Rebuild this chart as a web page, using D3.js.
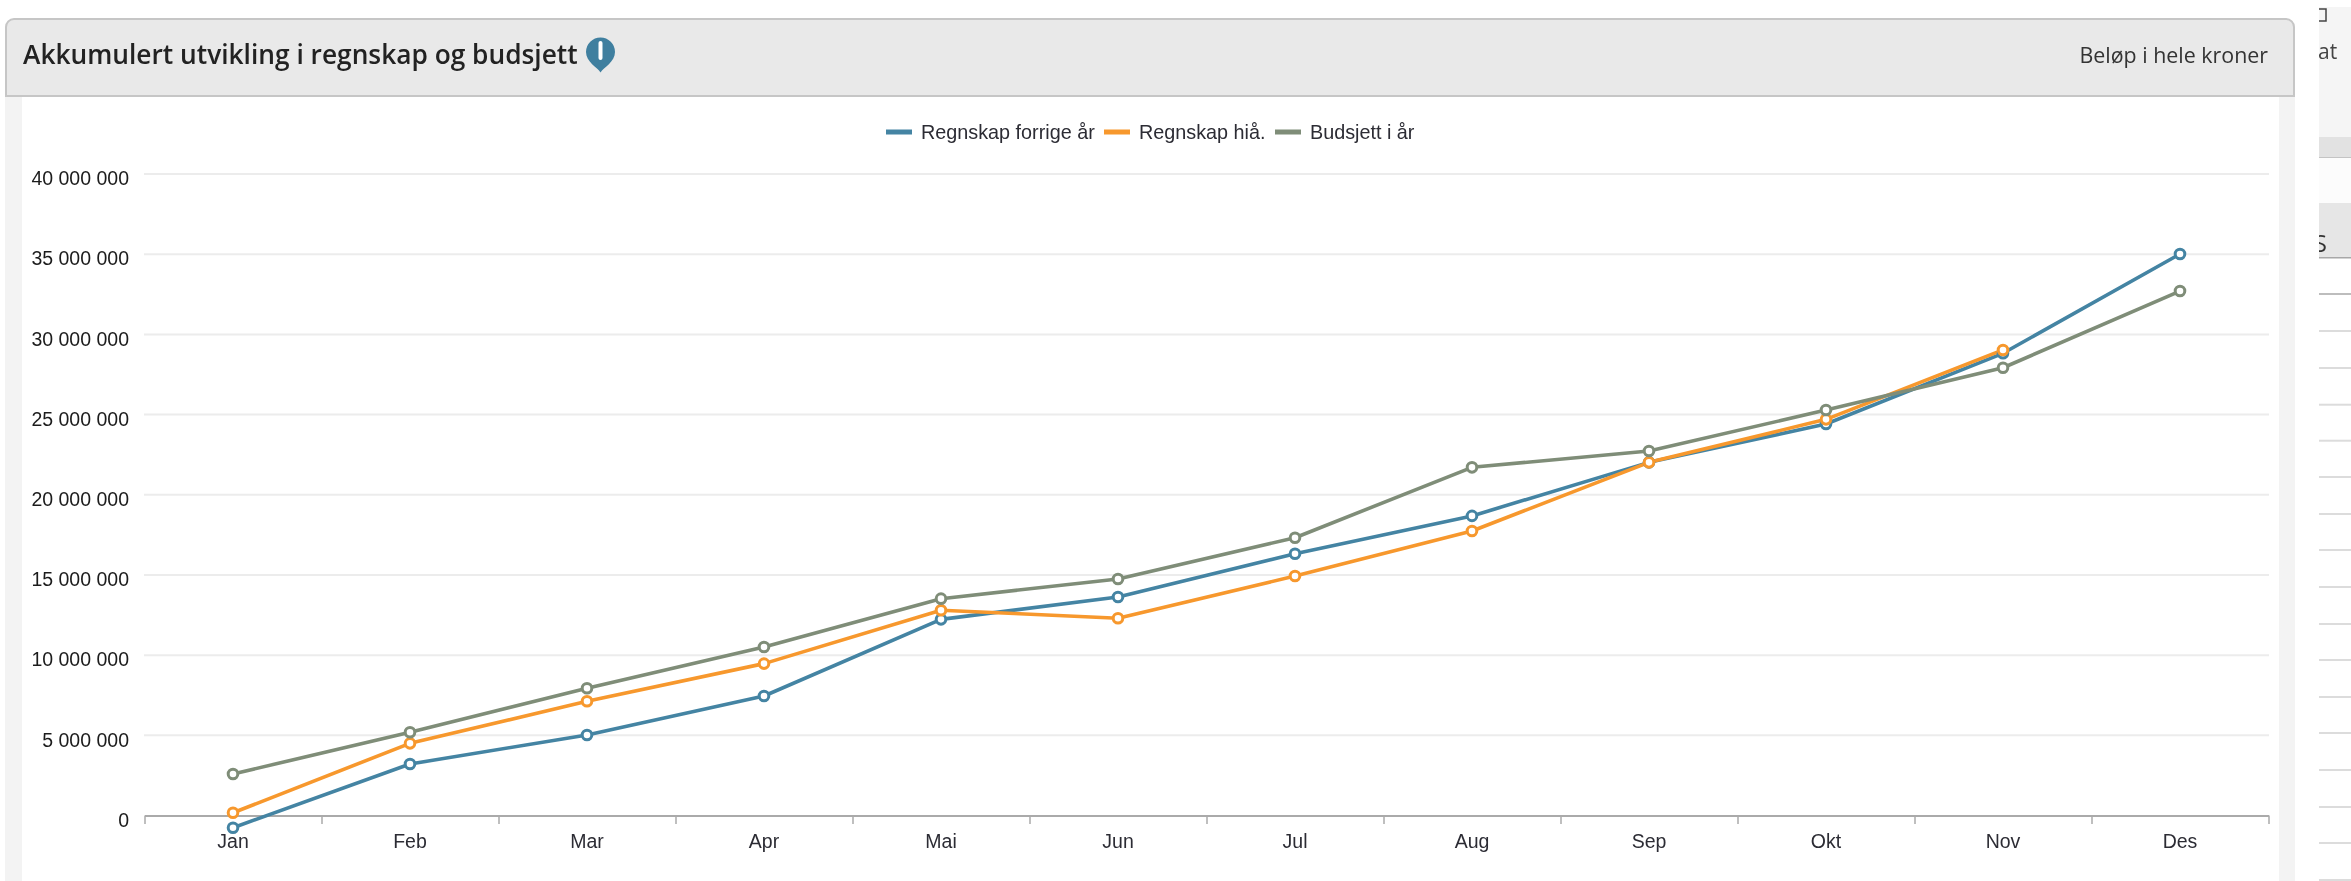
<!DOCTYPE html>
<html lang="no">
<head>
<meta charset="utf-8">
<title>Akkumulert utvikling i regnskap og budsjett</title>
<script src="https://cdn.jsdelivr.net/npm/d3@7/dist/d3.min.js"></script>
<style>
html,body{margin:0;padding:0;background:#fff;overflow:hidden}
svg{display:block;filter:blur(0.45px)}
</style>
</head>
<body>
<svg id="c" width="2351" height="881"></svg>
<script>
const months = ["Jan","Feb","Mar","Apr","Mai","Jun","Jul","Aug","Sep","Okt","Nov","Des"];
const yTicks = [0,5000000,10000000,15000000,20000000,25000000,30000000,35000000,40000000];
const regnskapForrigeAr = [-760000,3210000,5020000,7450000,12230000,13620000,16320000,18680000,22020000,24410000,28820000,35010000];
const regnskapHia = [170000,4500000,7120000,9470000,12800000,12300000,14930000,17740000,22020000,24700000,29030000];
const budsjettIAr = [2590000,5190000,7930000,10510000,13520000,14750000,17320000,21710000,22730000,25280000,27920000,32700000];
const seriesNames = ["Regnskap forrige år","Regnskap hiå.","Budsjett i år"];
const seriesColors = ["#4484a3","#f7982d","#7f8d78"];
const seriesValues = [regnskapForrigeAr,regnskapHia,budsjettIAr];
const legendSwatchX = [886,1104,1275];
const sideRules = [294,331,368,404.7,440.7,477,514,550,587,624,660,697,733,770,807,843,880];

const svg = d3.select("#c");
const sans = "'Liberation Sans',Arial,sans-serif";
const open = "'Open Sans',sans-serif";

svg.append("defs").append("clipPath").attr("id","sideClip")
  .append("rect").attr("x",2319).attr("y",0).attr("width",32).attr("height",881);

// page furniture
svg.append("rect").attr("x",5).attr("y",90).attr("width",17).attr("height",791).attr("fill","#f3f3f3");
svg.append("rect").attr("x",2279).attr("y",90).attr("width",16).attr("height",791).attr("fill","#f3f3f3");
svg.append("path")
  .attr("d","M6,96V27a8,8 0 0 1 8,-8H2286a8,8 0 0 1 8,8V96Z")
  .attr("fill","#e9e9e9").attr("stroke","#c6c6c6").attr("stroke-width",2);
svg.append("text").attr("x",23).attr("y",64).attr("font-family",open).attr("font-weight",600)
  .attr("font-size",26.3).attr("fill","#222").text("Akkumulert utvikling i regnskap og budsjett");
svg.append("path").attr("transform","translate(600.5,53)")
  .attr("d","M0,19.5C-3,14.5-14.5,9-14.5,-1A14.5,14.5 0 0 1 14.5,-1C14.5,9 3,14.5 0,19.5Z")
  .attr("fill","#3f7f9f");
svg.append("rect").attr("x",598.5).attr("y",41).attr("width",4).attr("height",19).attr("rx",2).attr("fill","#fff");
svg.append("text").attr("x",2268).attr("y",63).attr("text-anchor","end").attr("font-family",open)
  .attr("font-size",21.4).attr("fill","#333").text("Beløp i hele kroner");

// clipped neighbouring panel at the right edge
const side = svg.append("g").attr("clip-path","url(#sideClip)");
side.append("rect").attr("x",2319).attr("y",7).attr("width",32).attr("height",130).attr("fill","#f5f5f5");
side.append("rect").attr("x",2319).attr("y",137).attr("width",32).attr("height",20).attr("fill","#e2e2e2");
side.append("rect").attr("x",2319).attr("y",157).attr("width",32).attr("height",1.5).attr("fill","#c4c4c4");
side.append("rect").attr("x",2319).attr("y",158).attr("width",32).attr("height",45).attr("fill","#fcfcfc");
side.append("rect").attr("x",2319).attr("y",203).attr("width",32).attr("height",54).attr("fill","#e6e6e6");
side.append("rect").attr("x",2319).attr("y",257).attr("width",32).attr("height",1.5).attr("fill","#a8a8a8");
side.append("path").attr("d","M2319,9H2326V21H2319").attr("fill","none").attr("stroke","#444").attr("stroke-width",1.5);
side.append("text").attr("x",2318).attr("y",59).attr("font-family",open).attr("font-size",21).attr("fill","#444").text("at");
side.append("text").attr("x",2327).attr("y",252).attr("text-anchor","end").attr("font-family",open).attr("font-size",24).attr("fill","#333").text("S");
side.append("g").selectAll("rect").data(sideRules).join("rect")
  .attr("x",2319).attr("y",d=>d-1).attr("width",32).attr("height",2)
  .attr("fill",(d,i)=>i===0?"#bdbdbd":"#dcdcdc");

// scales
const x = d3.scaleBand().domain(months).range([144.5,2268.5]);
const y = d3.scaleLinear().domain([0,40000000]).range([815.5,174]);
const fmt = v => d3.format(",")(v).replace(/,/g," ");

// grid
svg.append("g").selectAll("line").data(yTicks.slice(1)).join("line")
  .attr("x1",144).attr("x2",2269).attr("y1",d=>y(d)).attr("y2",d=>y(d))
  .attr("stroke","#ececec").attr("stroke-width",2);

// y axis labels
const yAxis = svg.append("g").attr("transform","translate(129,4.5)")
  .call(d3.axisLeft(y).tickValues(yTicks).tickFormat(fmt).tickSize(0).tickPadding(0));
yAxis.select(".domain").remove();
yAxis.selectAll("text").attr("font-family",sans).attr("font-size",19.5).attr("fill","#1c1c1c");

// x axis
const xAxis = svg.append("g").attr("transform","translate(0,815.5)")
  .call(d3.axisBottom(x).tickSize(0).tickPadding(18.5));
xAxis.select(".domain").attr("stroke","#aaa").attr("stroke-width",2);
xAxis.selectAll("text").attr("font-family",sans).attr("font-size",19.5).attr("fill","#2c2c34");
svg.append("g").selectAll("line").data(months.concat("end")).join("line")
  .attr("x1",(d,i)=>x.range()[0]+i*x.step()+0.5).attr("x2",(d,i)=>x.range()[0]+i*x.step()+0.5)
  .attr("y1",815.5).attr("y2",824)
  .attr("stroke","#aaa").attr("stroke-width",1.5);

// series
const line = d3.line().x((d,i)=>x(months[i])+x.bandwidth()/2).y(d=>y(d));
seriesValues.forEach((vals,k)=>{
  svg.append("path").datum(vals).attr("d",line).attr("fill","none")
    .attr("stroke",seriesColors[k]).attr("stroke-width",3.6).attr("stroke-linejoin","round");
});
seriesValues.forEach((vals,k)=>{
  svg.append("g").selectAll("circle").data(vals).join("circle")
    .attr("cx",(d,i)=>x(months[i])+x.bandwidth()/2).attr("cy",d=>y(d)).attr("r",4.8)
    .attr("fill","#fff").attr("stroke",seriesColors[k]).attr("stroke-width",3);
});

// legend
const leg = svg.append("g").selectAll("g").data(seriesNames).join("g")
  .attr("transform",(d,i)=>`translate(${legendSwatchX[i]},132)`);
leg.append("rect").attr("x",0).attr("y",-2.5).attr("width",26).attr("height",5)
  .attr("fill",(d,i)=>seriesColors[i]);
leg.append("text").attr("x",35).attr("y",6.5).attr("font-family",sans).attr("font-size",19.8)
  .attr("fill","#2c2c34").text(d=>d);
</script>
</body>
</html>
